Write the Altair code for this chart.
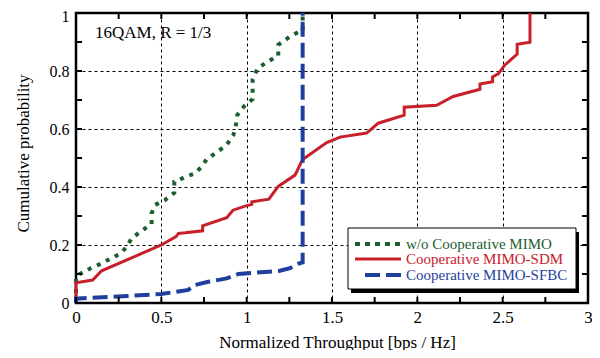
import altair as alt
import pandas as pd

# ---------------- data ----------------
green_x = [0, 0, 0.02, 0.086, 0.14, 0.2, 0.262, 0.297, 0.326, 0.385, 0.443, 0.443, 0.463, 0.521,
           0.576, 0.576, 0.59, 0.633, 0.697, 0.736, 0.766, 0.82, 0.883, 0.922, 0.937, 0.945, 0.986,
           1.035, 1.035, 1.064, 1.121, 1.185, 1.185, 1.25, 1.308, 1.328, 1.328]
green_y = [0, 0.09, 0.099, 0.12, 0.134, 0.152, 0.171, 0.194, 0.223, 0.249, 0.272, 0.309, 0.338, 0.355,
           0.38, 0.418, 0.42, 0.433, 0.447, 0.47, 0.496, 0.518, 0.545, 0.579, 0.614, 0.648, 0.679,
           0.703, 0.771, 0.809, 0.832, 0.852, 0.89, 0.917, 0.936, 0.936, 1.0]

red_x = [0, 0, 0.098, 0.15, 0.5, 0.586, 0.6, 0.64, 0.742, 0.742, 0.883, 0.92, 0.99, 1.03, 1.03,
         1.13, 1.185, 1.283, 1.328, 1.469, 1.547, 1.703, 1.771, 1.923, 1.923, 2.113, 2.21, 2.367,
         2.367, 2.441, 2.441, 2.474, 2.513, 2.585, 2.585, 2.66, 2.66]
red_y = [0, 0.07, 0.079, 0.111, 0.2, 0.229, 0.24, 0.242, 0.249, 0.266, 0.294, 0.32, 0.334, 0.34, 0.349,
         0.358, 0.402, 0.441, 0.495, 0.553, 0.572, 0.586, 0.62, 0.648, 0.675, 0.682, 0.712, 0.737,
         0.755, 0.763, 0.78, 0.79, 0.821, 0.858, 0.892, 0.899, 1.0]

blue_x = [0, 0, 0.3, 0.5, 0.59, 0.658, 0.697, 0.775, 0.883, 0.951, 1.195, 1.254, 1.308, 1.328, 1.328]
blue_y = [0, 0.015, 0.024, 0.031, 0.039, 0.045, 0.062, 0.073, 0.085, 0.1, 0.111, 0.12, 0.137, 0.14, 1.0]

series_names = ["w/o Cooperative MIMO", "Cooperative MIMO-SDM", "Cooperative MIMO-SFBC"]
series_colors = ["#1b5e30", "#c8202a", "#1f3f9c"]

x_labels = [0, 0.5, 1, 1.5, 2, 2.5, 3]
y_labels = [0, 0.2, 0.4, 0.6, 0.8, 1]
x_ticks = [0, 0.25, 0.5, 0.75, 1, 1.25, 1.5, 1.75, 2, 2.25, 2.5, 2.75, 3]
y_ticks = [0, 0.1, 0.2, 0.3, 0.4, 0.5, 0.6, 0.7, 0.8, 0.9, 1]

annotation = "16QAM, R = 1/3"
x_title = "Normalized Throughput [bps / Hz]"
y_title = "Cumulative probability"

# ---------------- chart ----------------
FONT = "Liberation Serif"
W, H = 512, 290

xscale = alt.Scale(domain=[0, 3], nice=False, zero=False)
yscale = alt.Scale(domain=[0, 1], nice=False, zero=False)

x_axis = alt.Axis(values=x_labels, title=x_title, format="~g", labelPadding=6,
                  titleX=261, titleY=39)
y_axis = alt.Axis(values=y_labels, title=y_title, format="~g", labelPadding=7,
                  labelFontSize=16,
                  labelOffset={"condition": {"test": "datum.value >= 1", "value": 3}, "value": 0},
                  titleX=-53, titleY=140)


def sdf(xs, ys):
    return pd.DataFrame({"x": xs, "y": ys, "i": list(range(len(xs)))})


def line_layer(xs, ys, color, width, dash=None):
    kw = dict(color=color, strokeWidth=width, strokeCap="butt", strokeJoin="miter")
    if dash is not None:
        kw["strokeDash"] = dash
    return alt.Chart(sdf(xs, ys)).mark_line(**kw).encode(
        x=alt.X("x:Q", scale=xscale, axis=x_axis),
        y=alt.Y("y:Q", scale=yscale, axis=y_axis),
        order="i:Q",
    )


green = line_layer(green_x, green_y, series_colors[0], 4, [4, 6])
red = line_layer(red_x, red_y, series_colors[1], 3)
blue = line_layer(blue_x, blue_y, series_colors[2], 4, [15, 6])

xt = pd.DataFrame({"x": x_ticks})
yt = pd.DataFrame({"y": y_ticks})
tick_style = dict(color="black", strokeWidth=2)
ticks = [
    alt.Chart(xt).mark_rule(**tick_style).encode(x=alt.X("x:Q", scale=xscale, axis=x_axis),
                                                 y=alt.value(0), y2=alt.value(6)),
    alt.Chart(xt).mark_rule(**tick_style).encode(x=alt.X("x:Q", scale=xscale, axis=x_axis),
                                                 y=alt.value(H), y2=alt.value(H - 6)),
    alt.Chart(yt).mark_rule(**tick_style).encode(y=alt.Y("y:Q", scale=yscale, axis=y_axis),
                                                 x=alt.value(0), x2=alt.value(6)),
    alt.Chart(yt).mark_rule(**tick_style).encode(y=alt.Y("y:Q", scale=yscale, axis=y_axis),
                                                 x=alt.value(W), x2=alt.value(W - 6)),
]

one = pd.DataFrame({"a": [0]})

ann = alt.Chart(one).mark_text(text=annotation, font=FONT, fontSize=17, align="left",
                               baseline="middle", color="black").encode(
    x=alt.value(19), y=alt.value(20))

# legend box
LX0, LX1, LY0, LY1 = 272, 500, 215, 276
shadow = alt.Chart(one).mark_rect(color="black").encode(
    x=alt.value(LX0 + 3), x2=alt.value(LX1 + 3), y=alt.value(LY0 + 4), y2=alt.value(LY1 + 4))
box = alt.Chart(one).mark_rect(fill="white", stroke="black", strokeWidth=1).encode(
    x=alt.value(LX0), x2=alt.value(LX1), y=alt.value(LY0), y2=alt.value(LY1))

row_y = [231, 246, 262]
legend_layers = [shadow, box]
sample = [
    dict(x0=279, dash=[5, 5], width=4),
    dict(x0=279, dash=None, width=3),
    dict(x0=289, dash=[15, 6], width=4),
]
for name, col, ry, s in zip(series_names, series_colors, row_y, sample):
    kw = dict(color=col, strokeWidth=s["width"], strokeCap="butt")
    if s["dash"] is not None:
        kw["strokeDash"] = s["dash"]
    legend_layers.append(alt.Chart(one).mark_rule(**kw).encode(
        x=alt.value(s["x0"]), x2=alt.value(325), y=alt.value(ry)))
    legend_layers.append(alt.Chart(one).mark_text(text=name, font=FONT, fontSize=15, align="left",
                                                  baseline="middle", color=col).encode(
        x=alt.value(330), y=alt.value(ry)))

chart = alt.layer(green, red, blue, *ticks, ann, *legend_layers).properties(
    width=W, height=H,
    padding={"left": 68, "top": 5, "right": 4, "bottom": 47},
    autosize=alt.AutoSizeParams(type="none"),
    background="white",
).configure_view(
    stroke="black", strokeWidth=2.5
).configure_axis(
    grid=True, gridDash=[3, 3], gridColor="black", gridOpacity=1, gridWidth=1,
    ticks=False, tickSize=0, domain=False,
    labelFont=FONT, labelFontSize=17, labelColor="black",
    titleFont=FONT, titleFontSize=17, titleFontWeight="normal", titleColor="black",
    labelFlush=False, labelOverlap=False, titleAlign="center", titleBaseline="middle",
)

chart.save("out.html", embed_options={"renderer": "svg", "actions": False})
